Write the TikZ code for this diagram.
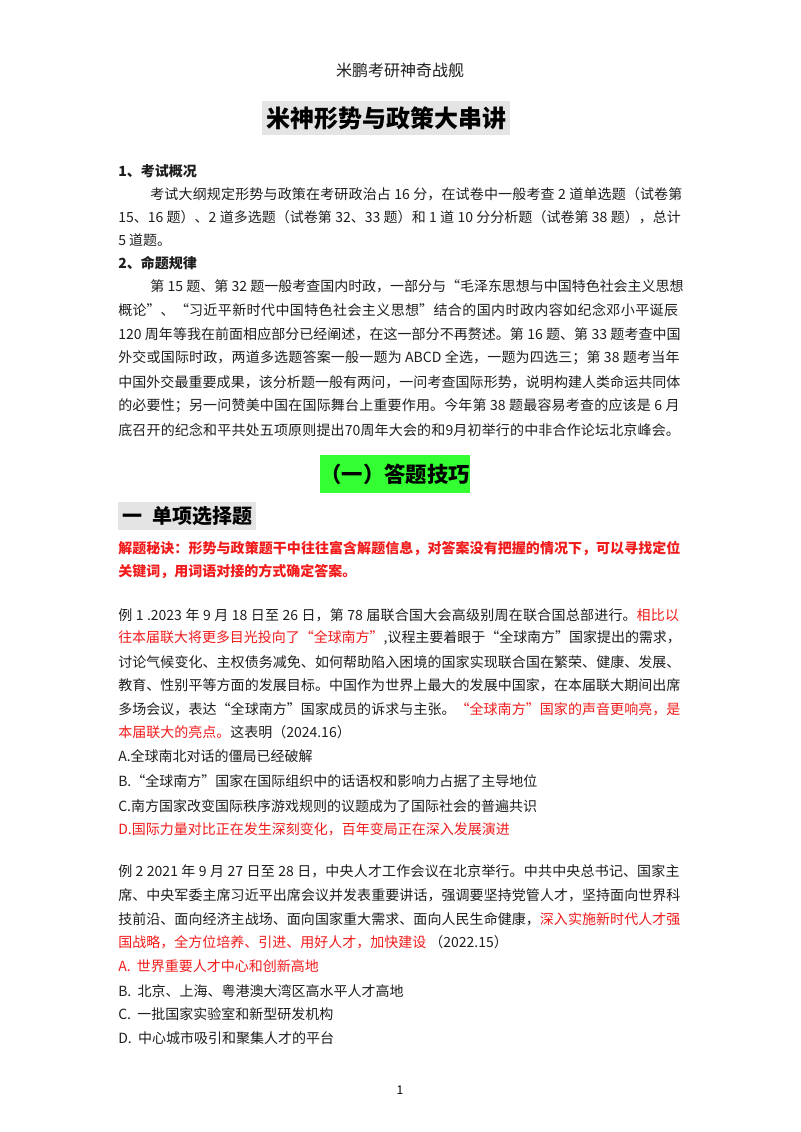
\documentclass[tikz,border=0pt]{standalone}
\usepackage{fontspec}
\setmainfont{Noto Sans CJK SC}
\XeTeXlinebreaklocale "zh"
\XeTeXlinebreakskip=0pt plus 3pt minus 1pt
\definecolor{rd}{HTML}{F21B1B}
\definecolor{tx}{HTML}{1E1E1E}
\definecolor{gbox}{HTML}{E4E4E4}
\definecolor{grn}{HTML}{33FF33}
\newcommand{\R}[1]{\textcolor{rd}{#1}}
\begin{document}
\begin{tikzpicture}[x=0.75pt,y=-0.75pt,
  base/.style={anchor=west,inner sep=0pt,font=\fontsize{10.5pt}{12pt}\selectfont,text=tx},
  full/.style={base,text width=422pt,execute at begin node={\parfillskip=0pt\relax\emergencystretch=0pt\spaceskip=2.5pt plus 2pt minus 1.5pt\relax}},
  ind/.style={full,text width=400pt},
  hd/.style={base,font=\fontsize{10.5pt}{12pt}\selectfont\bfseries}]
\useasboundingbox (0,0) rectangle (800,1132);
\fill[white] (0,0) rectangle (800,1132);
\node[inner sep=0,font=\fontsize{12pt}{14pt}\selectfont,text=tx] (hdr) at (400,70) {米鹏考研神奇战舰};
\node[fill=gbox,inner xsep=3pt,inner ysep=4pt,font=\fontsize{18pt}{22pt}\selectfont\bfseries] (title) at (386,118) {米神形势与政策大串讲};

\node[hd] (s1) at (118,171) {1、考试概况};
\node[ind] (a1) at (150,194) {考试大纲规定形势与政策在考研政治占 16 分，在试卷中一般考查 2 道单选题（试卷第};
\node[full] (a2) at (118,217) {15、16 题）、2 道多选题（试卷第 32、33 题）和 1 道 10 分分析题（试卷第 38 题），总计};
\node[base] (a3) at (118,240) {5 道题。};
\node[hd] (s2) at (118,263) {2、命题规律};
\node[ind] (b1) at (150,286) {第 15 题、第 32 题一般考查国内时政，一部分与“毛泽东思想与中国特色社会主义思想};
\node[full] (b2) at (118,310) {概论”、“习近平新时代中国特色社会主义思想”结合的国内时政内容如纪念邓小平诞辰};
\node[full] (b3) at (118,334) {120 周年等我在前面相应部分已经阐述，在这一部分不再赘述。第 16 题、第 33 题考查中国};
\node[full] (b4) at (118,358) {外交或国际时政，两道多选题答案一般一题为 ABCD 全选，一题为四选三；第 38 题考当年};
\node[full] (b5) at (118,382) {中国外交最重要成果，该分析题一般有两问，一问考查国际形势，说明构建人类命运共同体};
\node[full] (b6) at (118,406) {的必要性；另一问赞美中国在国际舞台上重要作用。今年第 38 题最容易考查的应该是 6 月};
\node[full] (b7) at (118,430) {底召开的纪念和平共处五项原则提出70周年大会的和9月初举行的中非合作论坛北京峰会。};

\node[fill=grn,minimum width=108pt,minimum height=28pt,inner sep=0,font=\fontsize{16pt}{18pt}\selectfont\bfseries] (sec) at (395,474) {（一）答题技巧};
\node[fill=gbox,anchor=west,minimum width=99pt,minimum height=21pt,inner xsep=3pt,inner ysep=0pt,font=\fontsize{15pt}{17pt}\selectfont\bfseries] (dx) at (118,516) {一\enspace 单项选择题};

\node[full,font=\fontsize{10.5pt}{12pt}\selectfont\bfseries,text=rd] (t1) at (118,548) {解题秘诀：形势与政策题干中往往富含解题信息，对答案没有把握的情况下，可以寻找定位};
\node[base,font=\fontsize{10.5pt}{12pt}\selectfont\bfseries,text=rd] (t2) at (118,571) {关键词，用词语对接的方式确定答案。};

\node[full] (e1) at (118,615) {例 1 .2023 年 9 月 18 日至 26 日，第 78 届联合国大会高级别周在联合国总部进行。\R{相比以}};
\node[full] (e2) at (118,638) {\R{往本届联大将更多目光投向了“全球南方”},议程主要着眼于“全球南方”国家提出的需求，};
\node[full] (e3) at (118,662) {讨论气候变化、主权债务减免、如何帮助陷入困境的国家实现联合国在繁荣、健康、发展、};
\node[full] (e4) at (118,685) {教育、性别平等方面的发展目标。中国作为世界上最大的发展中国家，在本届联大期间出席};
\node[full] (e5) at (118,709) {多场会议，表达“全球南方”国家成员的诉求与主张。\R{“全球南方”国家的声音更响亮，是}};
\node[base] (e6) at (118,732) {\R{本届联大的亮点。}这表明（2024.16）};
\node[base] (eA) at (118,756) {A.全球南北对话的僵局已经破解};
\node[base] (eB) at (118,781) {B.“全球南方”国家在国际组织中的话语权和影响力占据了主导地位};
\node[base] (eC) at (118,806) {C.南方国家改变国际秩序游戏规则的议题成为了国际社会的普遍共识};
\node[base,text=rd] (eD) at (118,829) {D.国际力量对比正在发生深刻变化，百年变局正在深入发展演进};

\node[full] (f1) at (118,871) {例 2 2021 年 9 月 27 日至 28 日，中央人才工作会议在北京举行。中共中央总书记、国家主};
\node[full] (f2) at (118,895) {席、中央军委主席习近平出席会议并发表重要讲话，强调要坚持党管人才，坚持面向世界科};
\node[full] (f3) at (118,919) {技前沿、面向经济主战场、面向国家重大需求、面向人民生命健康，\R{深入实施新时代人才强}};
\node[base] (f4) at (118,942) {\R{国战略，全方位培养、引进、用好人才，加快建设}\ （2022.15）};
\node[base,text=rd] (fA) at (118,966) {A.\ \ 世界重要人才中心和创新高地};
\node[base] (fB) at (118,991) {B.\ \ 北京、上海、粤港澳大湾区高水平人才高地};
\node[base] (fC) at (118,1014) {C.\ \ 一批国家实验室和新型研发机构};
\node[base] (fD) at (118,1038) {D.\ \ 中心城市吸引和聚集人才的平台};

\node[inner sep=0,font=\fontsize{9pt}{10pt}\selectfont] (pg) at (400,1090) {1};
\end{tikzpicture}
\end{document}
